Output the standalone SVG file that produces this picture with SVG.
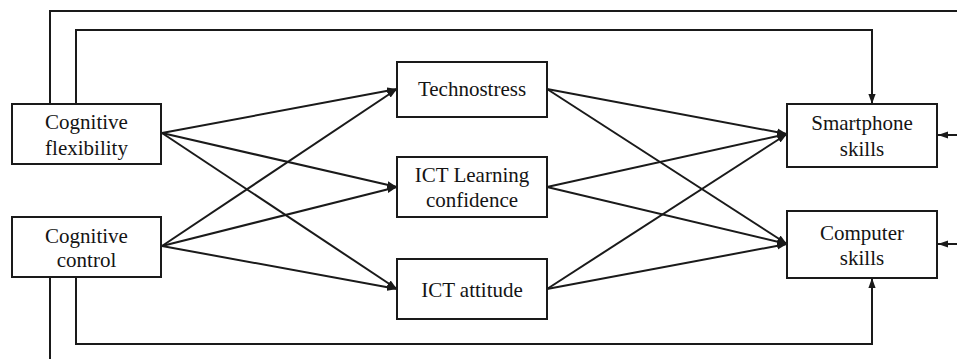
<svg xmlns="http://www.w3.org/2000/svg" width="957" height="359" viewBox="0 0 957 359">
  <style>
    .box { fill: #ffffff; stroke: #1a1a1a; stroke-width: 2; }
    .lbl { font-family: "Liberation Serif", "Times New Roman", serif; font-size: 21px; fill: #141414; text-anchor: middle; }
    .edge { fill: none; stroke: #1a1a1a; stroke-width: 2; }
    .arr { marker-end: url(#head); }
  </style>
  <defs>
    <marker id="head" markerUnits="userSpaceOnUse" markerWidth="10" markerHeight="8" viewBox="0 0 10 8" refX="10" refY="4" orient="auto">
      <path d="M0,0.4 L10,4 L0,7.6 Z" fill="#1a1a1a"/>
    </marker>
  </defs>
  <rect width="957" height="359" fill="#ffffff"/>

  <g id="connectors">
    <!-- outer loops -->
    <polyline class="edge" points="50,104 50,11 957,11"/>
    <polyline class="edge arr" points="76,104 76,30 872,30 872,104"/>
    <polyline class="edge" points="50,277 50,359"/>
    <polyline class="edge arr" points="76,277 76,344 872,344 872,278"/>
    <line class="edge arr" x1="957" y1="135" x2="938" y2="135"/>
    <line class="edge arr" x1="957" y1="244" x2="938" y2="244"/>
    <!-- predictors to mediators -->
    <line class="edge arr" x1="162" y1="133" x2="397" y2="89"/>
    <line class="edge arr" x1="162" y1="133" x2="397" y2="187"/>
    <line class="edge arr" x1="162" y1="133" x2="397" y2="289"/>
    <line class="edge arr" x1="162" y1="246" x2="397" y2="89"/>
    <line class="edge arr" x1="162" y1="246" x2="397" y2="187"/>
    <line class="edge arr" x1="162" y1="246" x2="397" y2="289"/>
    <!-- mediators to outcomes -->
    <line class="edge arr" x1="547" y1="89" x2="787" y2="134"/>
    <line class="edge arr" x1="547" y1="89" x2="787" y2="244"/>
    <line class="edge arr" x1="547" y1="187" x2="787" y2="134"/>
    <line class="edge arr" x1="547" y1="187" x2="787" y2="244"/>
    <line class="edge arr" x1="547" y1="289" x2="787" y2="134"/>
    <line class="edge arr" x1="547" y1="289" x2="787" y2="244"/>
  </g>

  <g id="cognitive-flexibility">
    <rect class="box" x="12" y="104" width="149" height="60"/>
    <text class="lbl" x="86.5" y="129">Cognitive</text>
    <text class="lbl" x="86.5" y="155">flexibility</text>
  </g>
  <g id="cognitive-control">
    <rect class="box" x="12" y="217" width="149" height="60"/>
    <text class="lbl" x="86.5" y="243">Cognitive</text>
    <text class="lbl" x="86.5" y="267">control</text>
  </g>
  <g id="technostress">
    <rect class="box" x="397" y="62" width="150" height="55"/>
    <text class="lbl" x="472" y="96">Technostress</text>
  </g>
  <g id="ict-learning-confidence">
    <rect class="box" x="397" y="157" width="150" height="60"/>
    <text class="lbl" x="472" y="182">ICT Learning</text>
    <text class="lbl" x="472" y="207">confidence</text>
  </g>
  <g id="ict-attitude">
    <rect class="box" x="397" y="259" width="150" height="60"/>
    <text class="lbl" x="472" y="297">ICT attitude</text>
  </g>
  <g id="smartphone-skills">
    <rect class="box" x="787" y="104" width="150" height="63"/>
    <text class="lbl" x="862" y="130">Smartphone</text>
    <text class="lbl" x="862" y="156">skills</text>
  </g>
  <g id="computer-skills">
    <rect class="box" x="787" y="211" width="150" height="67"/>
    <text class="lbl" x="862" y="240">Computer</text>
    <text class="lbl" x="862" y="265">skills</text>
  </g>
</svg>
